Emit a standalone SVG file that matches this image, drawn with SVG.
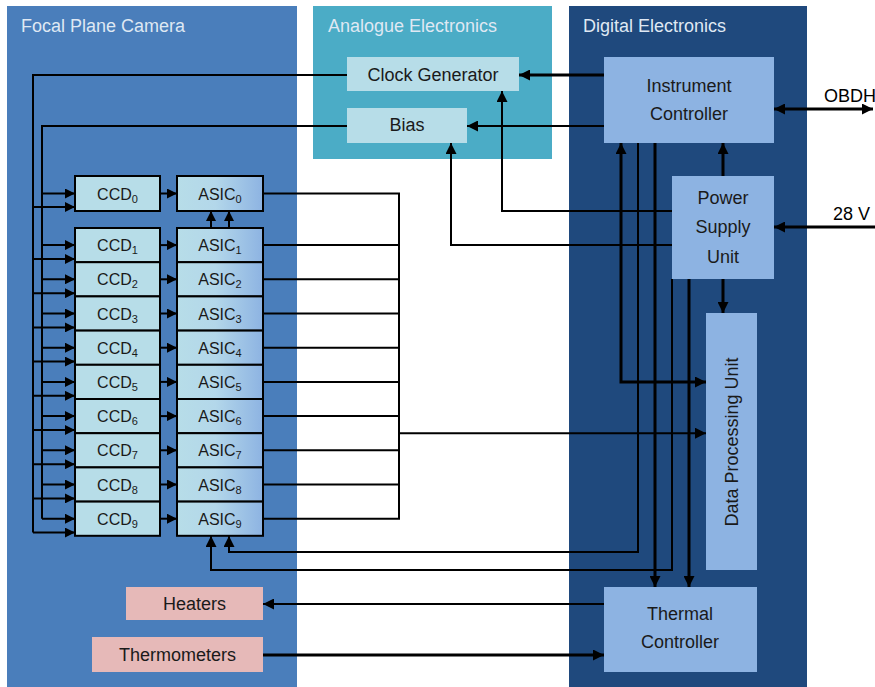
<svg xmlns="http://www.w3.org/2000/svg" width="875" height="687" viewBox="0 0 875 687">
<defs>
<marker id="a" viewBox="0 0 10 10" refX="10" refY="5" markerWidth="11" markerHeight="11" markerUnits="userSpaceOnUse" orient="auto-start-reverse"><path d="M0,0L10,5L0,10z" fill="#000"/></marker>
<marker id="s" viewBox="0 0 10 10" refX="10" refY="5" markerWidth="10" markerHeight="10" markerUnits="userSpaceOnUse" orient="auto"><path d="M0,0L10,5L0,10z" fill="#000"/></marker>
<linearGradient id="g" x1="0" y1="0" x2="1" y2="0"><stop offset="0" stop-color="#b7dde8"/><stop offset="0.45" stop-color="#b3d7ea"/><stop offset="1" stop-color="#8db3e2"/></linearGradient>
<style>
text{font-family:"Liberation Sans",Arial,sans-serif;font-size:18px;fill:#1a1a1a;text-anchor:middle}
.t{fill:#dfe8f3;text-anchor:start}
.lb{text-anchor:start;fill:#000}
.ccd{fill:#b7dde8;stroke:#000;stroke-width:2}
.asic{fill:url(#g);stroke:#000;stroke-width:2}
.sm{font-size:16px}
.c{fill:none;stroke:#000;stroke-width:2;stroke-linejoin:miter}
.k{stroke-width:3}
.m{marker-end:url(#a)}
.n{marker-end:url(#s)}
.b{marker-start:url(#a);marker-end:url(#a)}
</style>
</defs>
<rect width="875" height="687" fill="#fff"/>
<g id="panels">
<rect x="7" y="6" width="290" height="681" fill="#4a7ebb"/>
<rect x="313" y="6" width="239" height="153" fill="#4bacc6"/>
<rect x="569" y="6" width="238" height="681" fill="#1f497d"/>
<text class="t" x="21" y="32">Focal Plane Camera</text>
<text class="t" x="328" y="32">Analogue Electronics</text>
<text class="t" x="583" y="32">Digital Electronics</text>
</g>
<g id="connectors">
<path class="c" d="M347,75H33V532.6"/>
<path class="c" d="M347,126H42V518.7"/>
<g class="c n">
<path d="M42,193.5H75"/><path d="M33,207H75"/>
<path d="M42,245.1H75"/><path d="M33,259H75"/>
<path d="M42,279.3H75"/><path d="M33,293.2H75"/>
<path d="M42,313.5H75"/><path d="M33,327.4H75"/>
<path d="M42,347.7H75"/><path d="M33,361.6H75"/>
<path d="M42,381.9H75"/><path d="M33,395.8H75"/>
<path d="M42,416.1H75"/><path d="M33,430H75"/>
<path d="M42,450.3H75"/><path d="M33,464.2H75"/>
<path d="M42,484.5H75"/><path d="M33,498.4H75"/>
<path d="M42,518.7H75"/><path d="M33,532.6H75"/>
<path d="M160,193.5H177"/><path d="M160,245.1H177"/><path d="M160,279.3H177"/><path d="M160,313.5H177"/><path d="M160,347.7H177"/><path d="M160,381.9H177"/><path d="M160,416.1H177"/><path d="M160,450.3H177"/><path d="M160,484.5H177"/><path d="M160,518.7H177"/>
<path d="M211,228V211"/><path d="M229,228V211"/>
</g>
<path class="c" d="M263,193.5H399V518.7H263M263,245.1H399M263,279.3H399M263,313.5H399M263,347.7H399M263,381.9H399M263,416.1H399M263,450.3H399M263,484.5H399"/>
<path class="c m" d="M399,433.2H706"/>
<path class="c k b" d="M706,382H621V143"/>
<path class="c m" d="M638,143V552H229V536"/>
<path class="c k m" d="M655,143V587"/>
<path class="c m" d="M672,279V570H211V536"/>
<path class="c k m" d="M689,279V587"/>
<path class="c k m" d="M723,279V313"/>
<path class="c k m" d="M723,176V143"/>
<path class="c k m" d="M604,75H519"/>
<path class="c m" d="M604,126H467"/>
<path class="c m" d="M672,211H502V91"/>
<path class="c m" d="M672,245H451V143"/>
<path class="c k b" d="M774,109H873"/>
<path class="c k m" d="M875,227H774"/>
<path class="c m" d="M604,604H263"/>
<path class="c k m" d="M263,655H604"/>
</g>
<g id="clock-generator"><rect x="347" y="57" width="172" height="34" fill="#b7dde8"/><text x="433" y="81">Clock Generator</text></g>
<g id="bias"><rect x="347" y="108" width="120" height="35" fill="#b7dde8"/><text x="407" y="131">Bias</text></g>
<g id="instrument-controller"><rect x="604" y="57" width="170" height="86" fill="#8db3e2"/><text x="689" y="92">Instrument</text><text x="689" y="120">Controller</text></g>
<g id="power-supply-unit"><rect x="672" y="176" width="102" height="103" fill="#8db3e2"/><text x="723" y="204">Power</text><text x="723" y="233">Supply</text><text x="723" y="263">Unit</text></g>
<g id="data-processing-unit"><rect x="706" y="313" width="51" height="257" fill="#8db3e2"/><text transform="translate(738,442) rotate(-90)">Data Processing Unit</text></g>
<g id="thermal-controller"><rect x="604" y="587" width="153" height="85" fill="#8db3e2"/><text x="680" y="620">Thermal</text><text x="680" y="648">Controller</text></g>
<g id="heaters"><rect x="126" y="587" width="137" height="33" fill="#e6b9b8"/><text x="194.5" y="610">Heaters</text></g>
<g id="thermometers"><rect x="92" y="637" width="171" height="35" fill="#e6b9b8"/><text x="177.5" y="661">Thermometers</text></g>
<g id="obdh-label"><text class="lb" x="824" y="102" font-size="17">OBDH</text></g>
<g id="v28-label"><text class="lb" x="833" y="220">28 V</text></g>
<g id="ccd0"><rect class="ccd" x="75" y="176" width="85" height="35"/><text class="sm" x="117.5" y="199.5">CCD<tspan font-size="11" dy="3">0</tspan></text></g>
<g id="asic0"><rect class="asic" x="177" y="176" width="86" height="35"/><text class="sm" x="220" y="199.5">ASIC<tspan font-size="11" dy="3">0</tspan></text></g>
<g id="ccd1"><rect class="ccd" x="75" y="228" width="85" height="34.2"/><text class="sm" x="117.5" y="251.1">CCD<tspan font-size="11" dy="3">1</tspan></text></g>
<g id="ccd2"><rect class="ccd" x="75" y="262.2" width="85" height="34.2"/><text class="sm" x="117.5" y="285.3">CCD<tspan font-size="11" dy="3">2</tspan></text></g>
<g id="ccd3"><rect class="ccd" x="75" y="296.4" width="85" height="34.2"/><text class="sm" x="117.5" y="319.5">CCD<tspan font-size="11" dy="3">3</tspan></text></g>
<g id="ccd4"><rect class="ccd" x="75" y="330.6" width="85" height="34.2"/><text class="sm" x="117.5" y="353.7">CCD<tspan font-size="11" dy="3">4</tspan></text></g>
<g id="ccd5"><rect class="ccd" x="75" y="364.8" width="85" height="34.2"/><text class="sm" x="117.5" y="387.9">CCD<tspan font-size="11" dy="3">5</tspan></text></g>
<g id="ccd6"><rect class="ccd" x="75" y="399" width="85" height="34.2"/><text class="sm" x="117.5" y="422.1">CCD<tspan font-size="11" dy="3">6</tspan></text></g>
<g id="ccd7"><rect class="ccd" x="75" y="433.2" width="85" height="34.2"/><text class="sm" x="117.5" y="456.3">CCD<tspan font-size="11" dy="3">7</tspan></text></g>
<g id="ccd8"><rect class="ccd" x="75" y="467.4" width="85" height="34.2"/><text class="sm" x="117.5" y="490.5">CCD<tspan font-size="11" dy="3">8</tspan></text></g>
<g id="ccd9"><rect class="ccd" x="75" y="501.6" width="85" height="34.2"/><text class="sm" x="117.5" y="524.7">CCD<tspan font-size="11" dy="3">9</tspan></text></g>
<g id="asic1"><rect class="asic" x="177" y="228" width="86" height="34.2"/><text class="sm" x="220" y="251.1">ASIC<tspan font-size="11" dy="3">1</tspan></text></g>
<g id="asic2"><rect class="asic" x="177" y="262.2" width="86" height="34.2"/><text class="sm" x="220" y="285.3">ASIC<tspan font-size="11" dy="3">2</tspan></text></g>
<g id="asic3"><rect class="asic" x="177" y="296.4" width="86" height="34.2"/><text class="sm" x="220" y="319.5">ASIC<tspan font-size="11" dy="3">3</tspan></text></g>
<g id="asic4"><rect class="asic" x="177" y="330.6" width="86" height="34.2"/><text class="sm" x="220" y="353.7">ASIC<tspan font-size="11" dy="3">4</tspan></text></g>
<g id="asic5"><rect class="asic" x="177" y="364.8" width="86" height="34.2"/><text class="sm" x="220" y="387.9">ASIC<tspan font-size="11" dy="3">5</tspan></text></g>
<g id="asic6"><rect class="asic" x="177" y="399" width="86" height="34.2"/><text class="sm" x="220" y="422.1">ASIC<tspan font-size="11" dy="3">6</tspan></text></g>
<g id="asic7"><rect class="asic" x="177" y="433.2" width="86" height="34.2"/><text class="sm" x="220" y="456.3">ASIC<tspan font-size="11" dy="3">7</tspan></text></g>
<g id="asic8"><rect class="asic" x="177" y="467.4" width="86" height="34.2"/><text class="sm" x="220" y="490.5">ASIC<tspan font-size="11" dy="3">8</tspan></text></g>
<g id="asic9"><rect class="asic" x="177" y="501.6" width="86" height="34.2"/><text class="sm" x="220" y="524.7">ASIC<tspan font-size="11" dy="3">9</tspan></text></g>
</svg>
